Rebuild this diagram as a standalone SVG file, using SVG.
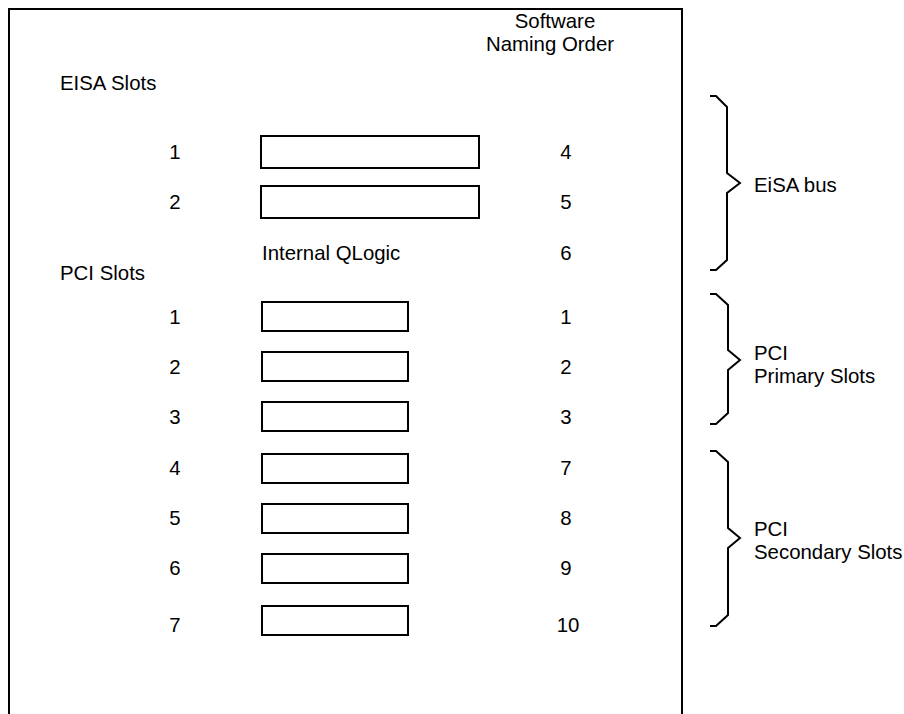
<svg xmlns="http://www.w3.org/2000/svg" width="904" height="714" viewBox="0 0 904 714">
<style>
text{font-family:"Liberation Sans",Arial,sans-serif;font-size:20.4px;fill:#000}
.n{text-anchor:middle}
.slot{fill:#fff;stroke:#000;stroke-width:2}
.br{fill:none;stroke:#000;stroke-width:2;stroke-linejoin:miter}
</style>
<rect width="904" height="714" fill="#fff"/>
<path d="M9,720 V9 H682 V720" fill="none" stroke="#000" stroke-width="2"/>
<g id="header"><text class="n" x="555" y="28">Software</text><text class="n" x="550" y="51">Naming Order</text></g>
<g id="eisa-title"><text x="60" y="90">EISA Slots</text></g>
<g id="eisa1"><text class="n" x="175" y="159">1</text><rect class="slot" x="261" y="136" width="218" height="32"/><text class="n" x="566" y="159">4</text></g>
<g id="eisa2"><text class="n" x="175" y="209">2</text><rect class="slot" x="261" y="186" width="218" height="32"/><text class="n" x="566" y="209">5</text></g>
<g id="qlogic"><text x="262" y="260">Internal QLogic</text><text class="n" x="566" y="260">6</text></g>
<g id="pci-title"><text x="60" y="280">PCI Slots</text></g>
<g id="pci1"><text class="n" x="175" y="324">1</text><rect class="slot" x="262" y="302" width="146" height="29"/><text class="n" x="566" y="324">1</text></g>
<g id="pci2"><text class="n" x="175" y="374">2</text><rect class="slot" x="262" y="352" width="146" height="29"/><text class="n" x="566" y="374">2</text></g>
<g id="pci3"><text class="n" x="175" y="424">3</text><rect class="slot" x="262" y="402" width="146" height="29"/><text class="n" x="566" y="424">3</text></g>
<g id="pci4"><text class="n" x="175" y="475">4</text><rect class="slot" x="262" y="454" width="146" height="29"/><text class="n" x="566" y="475">7</text></g>
<g id="pci5"><text class="n" x="175" y="525">5</text><rect class="slot" x="262" y="504" width="146" height="29"/><text class="n" x="566" y="525">8</text></g>
<g id="pci6"><text class="n" x="175" y="575">6</text><rect class="slot" x="262" y="554" width="146" height="29"/><text class="n" x="566" y="575">9</text></g>
<g id="pci7"><text class="n" x="175" y="632">7</text><rect class="slot" x="262" y="606" width="146" height="29"/><text class="n" x="568" y="632">10</text></g>
<g id="connectors">
<path class="br" d="M710,96 L716,96 L727,107 L727,173 L740,183 L727,193 L727,260 L716,270 L710,270"/>
<path class="br" d="M710,294 L716,294 L728,305 L728,350 L740,360 L728,370 L728,413 L716,424 L710,424"/>
<path class="br" d="M710,451 L716,451 L728,462 L728,528 L740,538 L728,548 L728,615 L716,626 L710,626"/>
</g>
<g id="brace-labels">
<text x="754" y="192">EiSA bus</text>
<text x="754" y="360">PCI</text><text x="754" y="383">Primary Slots</text>
<text x="754" y="536">PCI</text><text x="754" y="559">Secondary Slots</text>
</g>
</svg>
